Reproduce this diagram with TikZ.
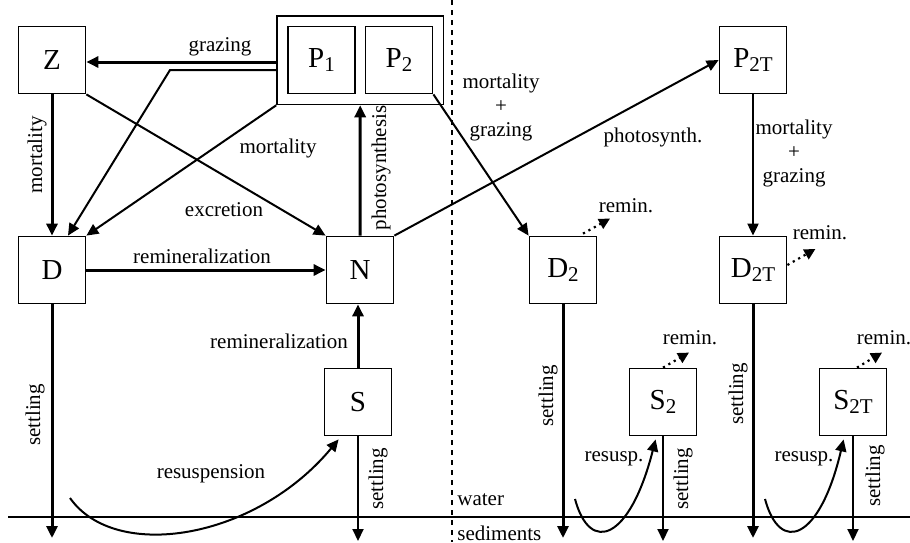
\documentclass[tikz,border=0pt]{standalone}
\usepackage{fontspec}
\setmainfont{Liberation Serif}
\usetikzlibrary{arrows.meta, calc, fit}

\newcommand{\subscr}[1]{\raisebox{-0.3ex}{\fontsize{10.5}{10.5}\selectfont #1}}

\tikzset{
	pool/.style = {draw, line width=0.9pt, minimum size=33.5pt, inner sep=0pt, font=\fontsize{14.5}{16}\selectfont},
	flow/.style = {-{Triangle[length=6pt, width=5.5pt]}, line width=1.5pt},
	thinflow/.style = {-{Triangle[length=6pt, width=5.5pt]}, line width=1pt},
	remin/.style = {-{Triangle[length=5.5pt, width=5.5pt]}, line width=1.1pt, dotted},
	txt/.style = {font=\fontsize{10.5}{12}\selectfont, inner sep=0pt, align=center}
}

\begin{document}
\begin{tikzpicture}[x=0.5pt, y=-0.5pt]
	\useasboundingbox (0,0) rectangle (910,542);

	\node [pool] (Z) at (52,60) {Z};
	\node [pool] (P1) at (321.5,60) {P\subscr{1}};
	\node [pool] (P2) at (399,60) {P\subscr{2}};
	\node [draw, line width=0.9pt, fit=(P1)(P2), inner sep=5pt] (P) {};
	\node [pool] (D) at (52,270) {D};
	\node [pool] (N) at (360,270) {N};
	\node [pool] (S) at (358,402) {S};

	\node [pool] (P2T) at (753,60) {P\subscr{2T}};
	\node [pool] (D2) at (563,270) {D\subscr{2}};
	\node [pool] (D2T) at (753,270) {D\subscr{2T}};
	\node [pool] (S2) at (663,402) {S\subscr{2}};
	\node [pool] (S2T) at (853,402) {S\subscr{2T}};

	\draw [line width=1.4pt, dash pattern=on 2.5pt off 2.5pt] (452,0) -- (452,542);
	\draw [line width=1.1pt] (8,517) -- (910,517);

	\draw [flow] ($(P.west)+(0,2)$) -- ($(Z.east)+(0,2)$);
	\coordinate (bend) at (170,70);
	\draw [thinflow] ($(P.west)+(0,10)$) -- (bend) -- ($(D.north)+(16,0)$);
	\draw [thinflow] (P.south west) -- (D.north east);
	\draw [flow] (Z) -- (D);
	\draw [thinflow] (Z.south east) -- (N.north west);
	\draw [flow] (D) -- (N);
	\draw [flow] (N) -- (P);
	\draw [flow] (S.north) -- (S.north |- N.south);
	\draw [thinflow] (N.north east) -- (P2T.west);
	\draw [thinflow] (P2.south east) -- (D2.north west);
	\draw [thinflow] (P2T) -- (D2T);

	\foreach \pool in {D, D2, D2T}
	{
		\draw [flow] (\pool.south) -- (\pool.south |- 0,538);
	}
	\foreach \pool in {S, S2, S2T}
	{
		\draw [thinflow] (\pool.south) -- (\pool.south |- 0,541);
	}

	\draw [thinflow] (70,498) .. controls (115,562) and (255,540) .. ($(S.south west)+(15,3)$);
	\draw [thinflow] (575,499) .. controls (590,555) and (630,540) .. ($(S2.south west)+(27,3)$);
	\draw [thinflow] (765,499) .. controls (780,555) and (820,540) .. ($(S2T.south west)+(25,3)$);

	\draw [remin] ($(D2.north)+(20,-2)$) -- ++(27,-15);
	\draw [remin] ($(D2T.east)+(0,-5)$) -- ++(28,-16);
	\draw [remin] (S2.north) -- ++(26,-15);
	\draw [remin] ($(S2T.north)+(4,0)$) -- ++(25,-15);

	\node [txt] (grazingL) at (220,47) {grazing};
	\node [txt] (mortPL) at (278,148) {mortality};
	\node [txt] (excrL) at (224,210) {excretion};
	\node [txt, rotate=90] (mortZL) at (37,155) {mortality};
	\node [txt] (reminDL) at (202,256) {remineralization};
	\node [txt, rotate=90] (photoL) at (381,168) {photosynthesis};
	\node [txt] (reminSL) at (279,341) {remineralization};
	\node [txt, rotate=90] (settleDL) at (35,415) {settling};
	\node [txt, rotate=90] (settleSL) at (378,479) {settling};
	\node [txt] (resuspL) at (211,474) {resuspension};

	\node [txt] (mgL) at (501,107) {mortality\\+\\grazing};
	\node [txt] (photoTL) at (653,137) {photosynth.};
	\node [txt] (mgTL) at (794,153) {mortality\\+\\grazing};
	\node [txt] (reminD2L) at (626,206) {remin.};
	\node [txt] (reminD2TL) at (820,233) {remin.};
	\node [txt] (reminS2L) at (690,338) {remin.};
	\node [txt] (reminS2TL) at (884,338) {remin.};
	\node [txt, rotate=90] (settleD2L) at (548,396) {settling};
	\node [txt, rotate=90] (settleS2L) at (683,479) {settling};
	\node [txt] (resuspS2L) at (614,459) {resusp.};
	\node [txt, rotate=90] (settleD2TL) at (738,394) {settling};
	\node [txt, rotate=90] (settleS2TL) at (875,476) {settling};
	\node [txt] (resuspS2TL) at (804,459) {resusp.};

	\node [txt, anchor=west] (waterL) at (457,500) {water};
	\node [txt, anchor=west] (sedL) at (457,533) {sediments};
\end{tikzpicture}
\end{document}
